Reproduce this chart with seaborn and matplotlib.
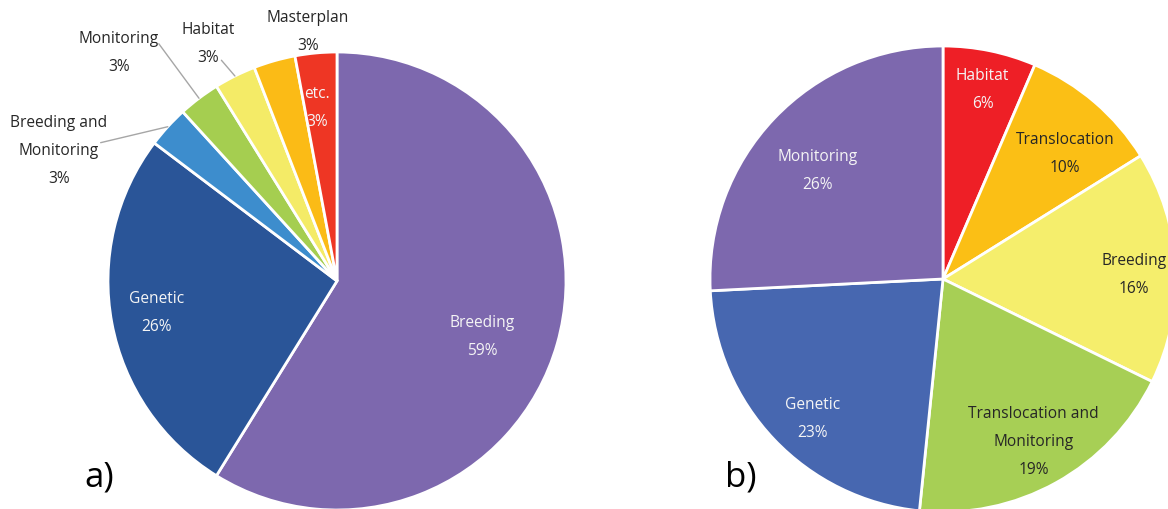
"""
Research topics of the studies - two pie charts, a) and b).
"""

import numpy as np
import matplotlib.pyplot as plt
import seaborn as sns

sns.set_theme(style="white")
plt.rcParams['font.family'] = ['Open Sans', 'DejaVu Sans']

# Data

topics_a = ['Breeding', 'Genetic', 'Breeding and\nMonitoring', 'Monitoring',
            'Habitat', 'Masterplan', 'etc.']
counts_a = [20, 9, 1, 1, 1, 1, 1]

topics_b = ['Habitat', 'Translocation', 'Breeding',
            'Translocation and\nMonitoring', 'Genetic', 'Monitoring']
counts_b = [2, 3, 5, 6, 7, 8]

colors_a = ['#7d68ae', '#2a5598', '#3d8dcd', '#a5ce50', '#f4eb67', '#fbbb16', '#ee3624']
colors_b = ['#ee1f26', '#fbbf15', '#f5ee6c', '#a7cf55', '#4767b0', '#7d68ae']

WHITE = '#f5f5f5'
DARK = '#262626'
txt_a = [WHITE, WHITE, DARK, DARK, DARK, DARK, WHITE]
txt_b = [WHITE, DARK, DARK, DARK, WHITE, WHITE]

# label placement: (distance / radius, angle in degrees, leader start on text box)
place_a = [(0.68, -21.1, None), (0.80, 190.1, None), (1.34, 155, (0.93, 0.62)),
           (1.38, 133.7, (1.0, 0.7)), (1.18, 118.5, (0.75, 0.12)), (1.095, 96.6, None),
           (0.76, 96.6, None)]
place_b = [(0.83, 78.2, None), (0.75, 45.7, None), (0.82, 1.2, None),
           (0.80, -60.9, None), (0.82, 226.9, None), (0.71, 139.4, None)]

H = 509
FS = 11.2
LS = 2.0

fig = plt.figure(figsize=(11.68, 5.09), dpi=100)
ax = fig.add_axes([0, 0, 1, 1])


def draw_pie(ax, topics, counts, colors, txtcolors, places, center, radius):
    wedges, _ = ax.pie(counts, colors=colors, startangle=90, counterclock=False,
                       center=center, radius=radius, frame=True,
                       wedgeprops=dict(edgecolor='white', linewidth=2))
    total = sum(counts)
    for w, name, n, tc, (dist, ang, rel) in zip(wedges, topics, counts,
                                                txtcolors, places):
        label = f"{name}\n{round(100 * n / total)}%"
        mid = np.deg2rad((w.theta1 + w.theta2) / 2)
        a = np.deg2rad(ang)
        tx = center[0] + dist * radius * np.cos(a)
        ty = center[1] + dist * radius * np.sin(a)
        rim = (center[0] + radius * np.cos(mid), center[1] + radius * np.sin(mid))
        arrow = None
        if rel is not None:
            arrow = dict(arrowstyle='-', color='#a6a6a6', lw=1, relpos=rel,
                         shrinkA=0, shrinkB=0, patchA=None)
        ax.annotate(label, xy=rim, xytext=(tx, ty), ha='center', va='center',
                    multialignment='center', color=tc, fontsize=FS,
                    linespacing=LS, arrowprops=arrow, annotation_clip=False)
    return wedges


draw_pie(ax, topics_a, counts_a, colors_a, txt_a, place_a, (337, H - 281), 229)
draw_pie(ax, topics_b, counts_b, colors_b, txt_b, place_b, (943, H - 279), 233)

ax.text(99, H - 478, 'a)', fontsize=25, ha='center', va='center', color='black')
ax.text(741, H - 478, 'b)', fontsize=25, ha='center', va='center', color='black')

ax.set_xlim(0, 1168)
ax.set_ylim(0, H)
ax.set_axis_off()

fig.savefig('out.png', dpi=100)
